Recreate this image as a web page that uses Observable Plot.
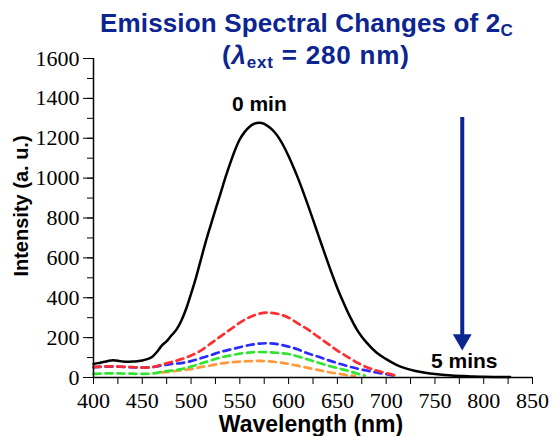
<!DOCTYPE html>
<html>
<head>
<meta charset="utf-8">
<script src="https://cdn.jsdelivr.net/npm/d3@7"></script>
<script src="https://cdn.jsdelivr.net/npm/@observablehq/plot@0.6"></script>
<style>
  html, body { margin: 0; padding: 0; background: white; }
  #wrap { position: relative; width: 554px; height: 436px; }
  .title { position: absolute; font-family: "Liberation Sans", Arial, sans-serif; font-weight: bold; font-size: 26px; color: #0c2590; white-space: nowrap; line-height: 1; }
  .title sub { font-size: 17px; vertical-align: baseline; position: relative; top: 4px; }
</style>
</head>
<body>
<div id="wrap">
  <div class="title" id="t1" style="left:100px; top:10px; letter-spacing:0.15px;">Emission Spectral Changes of 2<sub>C</sub></div>
  <div class="title" id="t2" style="left:222px; top:42px; letter-spacing:0.8px;">(<i>λ</i><sub>ext</sub> = 280 nm)</div>
</div>
<script>
// ---- data ----
const wl0 = [400,405,410,415,420,425,430,435,440,445,450,455,460,465,470,475,480,485,490,495,500,505,510,515,520,525,530,535,540,545,550,555,560,565,570,575,580,585,590,595,600,605,610,615,620,625,630,635,640,645,650,655,660,665,670,675,680,690,700,710,720,730,740,750,760,770,780,790,800,810,820,827];
const int0 = [68,72,78,83,86,84,80,79,80,82,85,92,103,128,160,182,212,240,285,345,420,500,590,680,762,842,920,1000,1073,1140,1195,1232,1258,1273,1278,1272,1256,1234,1202,1160,1110,1055,995,930,862,792,720,650,580,512,448,390,335,285,240,205,175,125,92,65,46,33,24,17,12,9,7,5,4,3,2,2];

const wlRed = [400,410,420,430,440,450,460,470,480,490,500,510,520,530,540,550,560,570,578,590,600,610,620,630,640,650,660,670,680,690,700,712];
const intRed = [52,55,56,54,52,50,52,65,78,92,110,135,170,205,240,275,302,320,325,318,300,270,240,205,170,135,105,75,52,35,22,8];

const wlBlue = [400,410,420,430,440,450,460,470,480,490,500,510,520,530,540,550,560,570,578,590,600,610,620,630,640,650,660,670,680,690,700,708];
const intBlue = [52,54,55,53,51,50,52,60,68,72,82,97,112,128,140,152,163,170,172,166,155,140,120,105,88,72,58,45,35,25,17,10];

const wlGreen = [400,410,420,430,440,450,460,470,480,490,500,510,520,530,540,550,560,570,580,590,600,610,620,630,640,650,660,670,678];
const intGreen = [18,20,21,20,19,18,20,28,35,42,55,70,85,100,110,120,125,128,127,123,118,105,90,75,60,47,35,20,10];

const wlOrange = [470,480,490,500,510,520,530,540,550,560,570,580,590,600,610,620,630,640,650,660,668];
const intOrange = [26,30,36,42,52,60,70,76,80,82,83,81,76,68,58,48,38,28,20,12,8];

const series = [
  {name: "orange", wl: wlOrange, v: intOrange, color: "#ff9a3c"},
  {name: "green", wl: wlGreen, v: intGreen, color: "#2fe62f"},
  {name: "blue", wl: wlBlue, v: intBlue, color: "#2b2bff"},
  {name: "red", wl: wlRed, v: intRed, color: "#ff2d2d"}
];

const xTicks = [400,450,500,550,600,650,700,750,800,850];
const xMinor = [400,425,450,475,500,525,550,575,600,625,650,675,700,725,750,775,800,825,850];
const yTicks = [0,200,400,600,800,1000,1200,1400,1600];
const yMinor = [0,100,200,300,400,500,600,700,800,900,1000,1100,1200,1300,1400,1500,1600];

const notes = [
  {x: 570, y: 1339, text: "0 min"},
  {x: 780, y: 50, text: "5 mins"}
];
const arrowX = [778];
const arrowTop = 1304;
const arrowHead = 190;

// ---- chart ----
const rows0 = wl0.map((w, i) => ({w, v: int0[i]}));
const serif = "Liberation Serif, Tinos, Times New Roman, DejaVu Serif, serif";
const sans = "Liberation Sans, Arial, sans-serif";
const navy = "#0c2590";

const marks = [];
for (const s of series) {
  const rows = s.wl.map((w, i) => ({w, v: s.v[i]}));
  marks.push(Plot.line(rows, {x: "w", y: "v", stroke: s.color, strokeWidth: 2.7, strokeDasharray: "7,5", curve: "monotone-x"}));
}
marks.push(Plot.line(rows0, {x: "w", y: "v", stroke: "black", strokeWidth: 2.5, curve: "monotone-x"}));

// arrow
marks.push(Plot.ruleX(arrowX, {y1: arrowTop, y2: arrowHead, stroke: navy, strokeWidth: 4}));
marks.push(Plot.dot(arrowX, {x: d => d, y: () => arrowHead, symbol: "triangle", rotate: 180, r: 7, fill: navy, stroke: "none"}));

// annotations
marks.push(Plot.text(notes, {x: "x", y: "y", text: "text", fontSize: 21, fontWeight: "bold", fontFamily: sans, lineAnchor: "bottom", fill: "black"}));

// axes
marks.push(Plot.axisX({ticks: xMinor, tickSize: 7, tickFormat: () => "", label: null}));
marks.push(Plot.axisY({ticks: yMinor, tickSize: 6, tickFormat: () => "", label: null}));
marks.push(Plot.axisY({ticks: yTicks, tickSize: 10, tickFormat: () => "", label: null}));
marks.push(Plot.text(xTicks, {x: d => d, frameAnchor: "bottom", dy: 30, lineAnchor: "bottom", text: d => String(d), fontSize: 22, fontFamily: serif, fill: "black"}));
marks.push(Plot.text(yTicks, {y: d => d, frameAnchor: "left", dx: -14, textAnchor: "end", lineAnchor: "middle", text: d => String(d), fontSize: 22, fontFamily: serif, fill: "black"}));
marks.push(Plot.ruleY([0], {stroke: "black", strokeWidth: 1.5}));
marks.push(Plot.ruleX([400], {stroke: "black", strokeWidth: 1.5}));

// axis titles
marks.push(Plot.text(["Wavelength (nm)"], {frameAnchor: "bottom", dy: 54, dx: -2, lineAnchor: "bottom", fontSize: 23, fontWeight: "bold", fontFamily: sans, fill: "black"}));
marks.push(Plot.text(["Intensity (a. u.)"], {frameAnchor: "left", textAnchor: "middle", dx: -66, dy: -12, rotate: -90, lineAnchor: "bottom", fontSize: 20, fontWeight: "bold", fontFamily: sans, fill: "black"}));

const chart = Plot.plot({
  width: 554,
  height: 436,
  marginTop: 58,
  marginBottom: 59,
  marginLeft: 93,
  marginRight: 22,
  x: {domain: [400, 850], axis: null},
  y: {domain: [0, 1600], axis: null},
  style: {background: "transparent", color: "black", overflow: "visible"},
  marks
});
chart.style.position = "absolute";
chart.style.left = "0px";
chart.style.top = "0px";
document.getElementById("wrap").prepend(chart);
</script>
</body>
</html>
